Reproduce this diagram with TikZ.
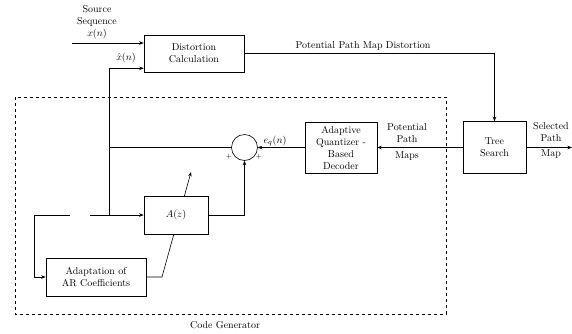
\documentclass[tikz,border=0pt]{standalone}
\usetikzlibrary{arrows.meta}
\begin{document}
\begin{tikzpicture}[x=1pt,y=-1pt, line width=0.6pt,
  >={Stealth[length=4.5pt,width=3.5pt]},
  blk/.style={draw, fill=white, align=center, inner sep=0pt},
  lbl/.style={align=center, inner sep=0pt},
  gen/.style={draw, dash pattern=on 3pt off 3pt}]
\useasboundingbox (0,0) rectangle (572,333);
% code generator frame
\draw[gen] (15,97) rectangle (446,314);
\node[lbl] (cg) at (225,325) {Code Generator};
% blocks
\node[blk, minimum width=100pt, minimum height=37pt] (dist) at (194,53.5) {Distortion\\Calculation};
\node[blk, minimum width=72pt, minimum height=51pt] (aq) at (341,147.5) {Adaptive\\Quantizer -\\Based\\Decoder};
\node[blk, minimum width=63pt, minimum height=52pt] (tree) at (494.5,147.5) {Tree\\Search};
\node[circle, draw, minimum size=26pt, inner sep=0pt] (sum) at (244.5,147.5) {};
\node[blk, minimum width=100pt, minimum height=38pt] (adp) at (96,277) {Adaptation of\\AR Coefficients};
% adaptation output (behind A(z))
\coordinate (bend) at (162,277);
\coordinate (tip) at (191,172);
\draw[->] (adp.east) -- (bend) -- (tip);
\node[blk, minimum width=64pt, minimum height=38pt] (az) at (176,215) {$A(z)$};
% source input
\node[lbl] (src) at (97,22) {Source\\Sequence\\$x(n)$};
\coordinate (xin) at (72,43);
\draw[->] (xin) -- (xin -| dist.west);
% reconstructed signal
\coordinate (tap) at (109,215);
\draw[->] (tap) |- ([yshift=4pt]dist.south west);
\node[lbl] (xhat) at (126,58) {$\hat{x}(n)$};
\draw (tap |- sum.west) -- (sum.west);
% predictor input with gap
\coordinate (gapL) at (70,215);
\coordinate (gapR) at (90,215);
\coordinate (la) at (34,215);
\draw[->] (gapR) -- (az.west);
\draw[->] (gapL) -- (la) |- (adp.west);
% predictor output to summer
\draw[->] (az.east) -| (sum.south);
\node[lbl, font=\scriptsize] (p1) at (229,157) {$+$};
\node[lbl, font=\scriptsize] (p2) at (259,157) {$+$};
% quantized error
\draw[->] (aq.west) -- (sum.east);
\node[lbl] (eq) at (275,141) {$e_q(n)$};
% path maps
\draw[->] (tree.west) -- (aq.east);
\node[lbl] (ppm1) at (407,133.5) {Potential\\Path};
\node[lbl] (ppm2) at (407,156) {Maps};
% distortion to tree search
\draw[->] (dist.east) -| (tree.north);
\node[lbl] (ppmd) at (363,46) {Potential Path Map Distortion};
% output
\coordinate (out) at (572,147.5);
\draw[->] (tree.east) -- (out);
\node[lbl] (sp1) at (551,132) {Selected\\Path};
\node[lbl] (sp2) at (551,154) {Map};
\end{tikzpicture}
\end{document}
